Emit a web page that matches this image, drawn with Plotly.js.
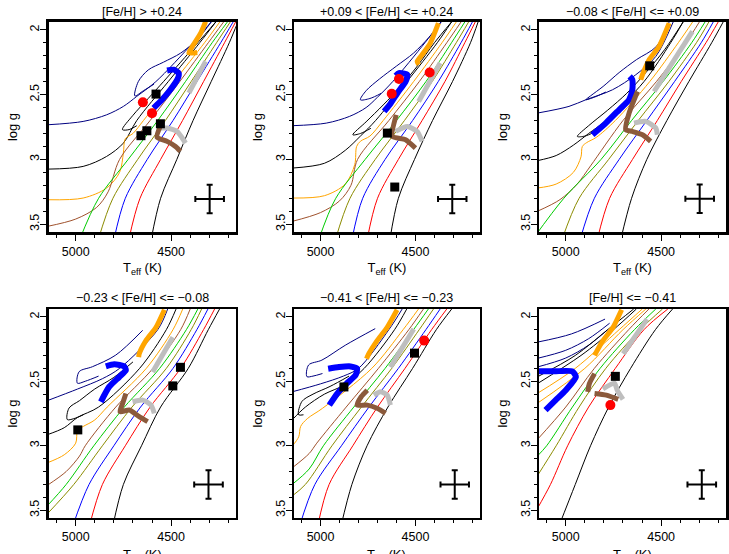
<!DOCTYPE html>
<html><head><meta charset="utf-8">
<script src="https://cdn.plot.ly/plotly-3.0.1.min.js"></script>
<style>html,body{margin:0;padding:0;background:#fff}</style>
</head><body><div id="chart" style="width:729px;height:554px"></div>
<script>
// ---------- panel titles ----------
const panelTitles = ['[Fe/H] > +0.24', '+0.09 < [Fe/H] <= +0.24', '\u22120.08 < [Fe/H] <= +0.09',
  '\u22120.23 < [Fe/H] <= \u22120.08', '\u22120.41 < [Fe/H] <= \u22120.23', '[Fe/H] <= \u22120.41'];
const xTitle = 'T<sub>eff</sub> (K)';
const yTitle = 'log g';
const xTickVals = [5000, 4500];
const yTickVals = [2, 2.5, 3, 3.5];
const xMinorTicks = [5100, 4900, 4800, 4700, 4600, 4400, 4300, 4200];
const yMinorTicks = [2.1, 2.2, 2.3, 2.4, 2.6, 2.7, 2.8, 2.9, 3.1, 3.2, 3.3, 3.4, 3.5];

// ---------- thin isochrones (Teff, log g) ----------
// order: navy, navy loop, black, black loop, orange, brown, green, olive, blue, red, black (oldest)
const thinT1 = [
  [5150,4961,4838,4750,4680,4580,4385,4290],
  [4290,4360,4450,4540,4620,4672,4690,4645,4590],
  [5150,4961,4838,4750,4680,4515,4350,4266],
  [4266,4360,4450,4540,4620,4700,4755,4720,4680],
  [5150,4961,4838,4770,4750,4740,4700,4645,4485,4325,4245],
  [5150,5000,4890,4830,4770,4610,4455,4305,4225],
  [4980,4880,4725,4570,4425,4285,4205],
  [4882,4805,4675,4530,4395,4262,4190],
  [4800,4740,4625,4490,4365,4240,4175],
  [4722,4663,4555,4440,4330,4220,4162],
  [4605,4555,4470,4385,4290,4195,4150]];
const thinG1 = [
  [2.733,2.707,2.656,2.591,2.514,2.40,2.10,1.94],
  [1.94,2.07,2.18,2.25,2.31,2.40,2.51,2.47,2.42],
  [3.075,3.054,2.977,2.874,2.70,2.40,2.10,1.94],
  [1.94,2.10,2.25,2.40,2.53,2.66,2.77,2.77,2.74],
  [3.311,3.298,3.221,3.10,2.95,2.84,2.80,2.70,2.40,2.10,1.94],
  [3.517,3.46,3.37,3.25,3.00,2.70,2.40,2.10,1.94],
  [3.62,3.30,3.00,2.70,2.40,2.10,1.94],
  [3.62,3.30,3.00,2.70,2.40,2.10,1.94],
  [3.62,3.30,3.00,2.70,2.40,2.10,1.94],
  [3.62,3.30,3.00,2.70,2.40,2.10,1.94],
  [3.62,3.30,3.00,2.70,2.40,2.10,1.94]];

const thinT2 = [
  [5150,4970,4847,4760,4700,4620,4450,4365],
  [4365,4430,4510,4600,4690,4760,4790,4740,4680],
  [5150,4980,4870,4790,4710,4545,4385,4310],
  [4310,4400,4490,4580,4670,4760,4830,4790,4735],
  [5150,4980,4870,4820,4810,4790,4740,4670,4510,4360,4285],
  [5150,5000,4900,4840,4805,4640,4480,4335,4260],
  [5010,4920,4765,4600,4445,4310,4240],
  [4922,4845,4712,4558,4412,4285,4220],
  [4835,4778,4660,4515,4380,4260,4200],
  [4755,4700,4590,4465,4345,4240,4185],
  [4635,4590,4505,4410,4305,4210,4170]];
const thinG2 = [
  [2.74,2.72,2.668,2.60,2.52,2.40,2.10,1.94],
  [1.94,2.06,2.18,2.28,2.38,2.47,2.54,2.53,2.49],
  [3.067,3.03,2.93,2.82,2.70,2.40,2.10,1.94],
  [1.94,2.10,2.28,2.44,2.58,2.71,2.81,2.80,2.76],
  [3.298,3.28,3.19,3.04,2.90,2.86,2.82,2.70,2.40,2.10,1.94],
  [3.478,3.41,3.32,3.20,3.00,2.70,2.40,2.10,1.94],
  [3.62,3.30,3.00,2.70,2.40,2.10,1.94],
  [3.62,3.30,3.00,2.70,2.40,2.10,1.94],
  [3.62,3.30,3.00,2.70,2.40,2.10,1.94],
  [3.62,3.30,3.00,2.70,2.40,2.10,1.94],
  [3.62,3.30,3.00,2.70,2.40,2.10,1.94]];

const thinT3 = [
  [5150,4983,4895,4755,4633,4528,4437],
  [4458,4525,4630,4720,4804,4870,4895,4850,4790],
  [5150,5050,4960,4880,4790,4590,4450,4385],
  [4385,4480,4580,4680,4780,4880,4939,4900,4850],
  [5150,5050,4960,4920,4913,4890,4840,4740,4560,4410,4335],
  [5150,5030,4940,4870,4700,4525,4370,4300],
  [5165,5010,4815,4655,4490,4340,4270],
  [5020,4930,4775,4620,4460,4315,4250],
  [4925,4850,4720,4575,4430,4290,4227],
  [4835,4770,4650,4520,4395,4265,4201],
  [4712,4655,4575,4470,4355,4235,4175]];
const thinG3 = [
  [2.643,2.591,2.54,2.463,2.347,2.206,1.94],
  [1.94,2.129,2.231,2.33,2.437,2.51,2.54,2.52,2.48],
  [3.01,2.97,2.89,2.80,2.70,2.40,2.10,1.94],
  [1.94,2.15,2.33,2.49,2.62,2.74,2.823,2.82,2.79],
  [3.221,3.19,3.10,2.98,2.90,2.87,2.83,2.70,2.40,2.10,1.94],
  [3.401,3.31,3.19,3.05,2.70,2.40,2.10,1.94],
  [3.60,3.30,3.00,2.70,2.40,2.10,1.94],
  [3.62,3.30,3.00,2.70,2.40,2.10,1.94],
  [3.62,3.30,3.00,2.70,2.40,2.10,1.94],
  [3.62,3.30,3.00,2.70,2.40,2.10,1.94],
  [3.62,3.30,3.00,2.70,2.40,2.10,1.94]];

const thinT4 = [
  [5150,4990,4860,4770,4570,4518],
  [4649,4790,4912,4982,4991,4950,4880],
  [5150,5060,4990,4880,4665,4525,4474],
  [4700,4800,4900,4980,5035,5044,5010,4960],
  [5150,5060,5000,4990,4960,4900,4835,4630,4490,4439],
  [5150,5050,4980,4950,4790,4595,4450,4400],
  [5150,5050,4905,4745,4560,4420,4360],
  [5150,5010,4860,4705,4525,4395,4340],
  [5015,4930,4800,4660,4490,4365,4307],
  [4928,4860,4740,4610,4450,4330,4272],
  [4805,4750,4655,4555,4410,4305,4246]];
const thinG4 = [
  [2.651,2.56,2.48,2.40,2.10,1.94],
  [2.105,2.297,2.387,2.426,2.515,2.50,2.46],
  [2.915,2.86,2.78,2.70,2.40,2.10,1.94],
  [2.35,2.47,2.56,2.65,2.708,2.797,2.79,2.76],
  [3.133,3.07,2.98,2.88,2.85,2.80,2.70,2.40,2.10,1.94],
  [3.308,3.20,3.08,3.00,2.70,2.40,2.10,1.94],
  [3.467,3.30,3.00,2.70,2.40,2.10,1.94],
  [3.53,3.30,3.00,2.70,2.40,2.10,1.94],
  [3.62,3.30,3.00,2.70,2.40,2.10,1.94],
  [3.62,3.30,3.00,2.70,2.40,2.10,1.94],
  [3.62,3.30,3.00,2.70,2.40,2.10,1.94]];

const thinT5 = [
  [5150,5000,4880,4800,4640,4570],
  [4712,4870,4993,5063,5072,5040,4990],
  [5150,5080,4980,4877,4770,4610,4546],
  [4850,4950,5040,5098,5116,5090],
  [5150,5115,5105,5070,4990,4730,4565,4484],
  [5150,5060,5020,4865,4695,4535,4458],
  [5150,5060,4985,4825,4660,4510,4432],
  [5150,5080,4940,4785,4625,4480,4405],
  [5110,5030,4890,4745,4590,4445,4370],
  [5015,4955,4830,4700,4555,4415,4335],
  [4892,4835,4755,4645,4515,4390,4309]];
const thinG5 = [
  [2.582,2.52,2.46,2.40,2.10,1.94],
  [2.092,2.221,2.336,2.374,2.464,2.46,2.44],
  [2.80,2.70,2.60,2.53,2.40,2.10,1.94],
  [2.46,2.54,2.60,2.656,2.759,2.76],
  [3.005,2.93,2.85,2.79,2.71,2.40,2.10,1.94],
  [3.172,3.06,2.98,2.70,2.40,2.10,1.94],
  [3.30,3.18,3.00,2.70,2.40,2.10,1.94],
  [3.39,3.30,3.00,2.70,2.40,2.10,1.94],
  [3.62,3.30,3.00,2.70,2.40,2.10,1.94],
  [3.62,3.30,3.00,2.70,2.40,2.10,1.94],
  [3.62,3.30,3.00,2.70,2.40,2.10,1.94]];

// panel 6: navy x3, black x2, orange x2, brown, green, olive, red, black (oldest)
const thinT6 = [
  [5150,4970,4794],
  [5150,5000,4880,4770],
  [5150,5000,4880,4780],
  [5150,4950,4780,4644],
  [5150,4920,4750,4630],
  [5150,4950,4720,4599],
  [5150,4900,4700,4580],
  [5150,5000,4850,4670,4564],
  [5150,5100,4965,4820,4640,4528],
  [5150,5050,4930,4790,4610,4493],
  [5150,5080,4990,4880,4740,4590,4465],
  [5035,4950,4870,4775,4660,4530,4440]];
const thinG6 = [
  [2.197,2.133,2.018],
  [2.323,2.26,2.17,2.05],
  [2.39,2.32,2.22,2.10],
  [2.467,2.30,2.10,1.94],
  [2.52,2.30,2.10,1.94],
  [2.595,2.40,2.10,1.94],
  [2.672,2.40,2.10,1.94],
  [2.954,2.70,2.40,2.10,1.94],
  [3.082,3.00,2.70,2.40,2.10,1.94],
  [3.236,3.00,2.70,2.40,2.10,1.94],
  [3.49,3.30,3.00,2.70,2.40,2.10,1.94],
  [3.62,3.30,3.00,2.70,2.40,2.10,1.94]];

// ---------- thick tracks: orange, blue, grey (upper), grey (arc), brown [, brown] ----------
const thickT1 = [[4319,4345,4389,4407,4363],[4592,4548,4504,4468,4460,4486,4521],[4407,4319],[4565,4521,4468,4442,4424],[4553,4574,4521,4477,4451]];
const thickG1 = [[1.936,2.026,2.129,2.18,2.175],[2.604,2.54,2.463,2.386,2.334,2.308,2.314],[2.488,2.244],[2.758,2.758,2.784,2.835,2.874],[2.733,2.828,2.861,2.90,2.938]];
const thickT2 = [[4379,4422,4465,4491,4483],[4665,4630,4595,4552,4543,4587,4604],[4483,4370],[4604,4543,4491,4465],[4601,4622,4552,4500]];
const thickG2 = [[1.949,2.103,2.193,2.244,2.27],[2.63,2.566,2.488,2.398,2.347,2.334,2.355],[2.553,2.257],[2.784,2.746,2.784,2.861],[2.656,2.823,2.848,2.913]];
const thickT3 = [[4458,4511,4563,4598,4607],[4860,4790,4720,4668,4651,4651,4665],[4537,4336],[4642,4581,4528,4520],[4624,4668,4686,4651,4598,4555]];
const thickG3 = [[1.949,2.129,2.231,2.347,2.386],[2.81,2.72,2.617,2.54,2.463,2.386,2.36],[2.476,2.013],[2.72,2.707,2.758,2.81],[2.476,2.643,2.771,2.784,2.81,2.861]];
const thickT4 = [[4535,4579,4632,4667,4670],[4868,4825,4772,4737,4746,4798,4842],[4597,4491],[4702,4649,4605,4588],[4737,4754,4768,4719,4667,4623]];
const thickG4 = [[1.946,2.082,2.185,2.287,2.313],[2.659,2.544,2.467,2.415,2.385,2.369,2.385],[2.428,2.159],[2.659,2.646,2.685,2.749],[2.595,2.672,2.736,2.723,2.774,2.813]];
const thickT5 = [[4597,4649,4702,4746,4758],[4954,4912,4863,4816,4807,4842,4903,4960],[4632,4509],[4719,4684,4649,4632],[4754,4786,4807,4754,4702,4658]];
const thickG5 = [[1.946,2.082,2.185,2.287,2.326],[2.685,2.595,2.518,2.454,2.403,2.385,2.39,2.403],[2.39,2.095],[2.608,2.582,2.608,2.685],[2.569,2.62,2.685,2.685,2.71,2.749]];
const thickT6 = [[4707,4752,4805,4840,4849],[5160,5060,4965,4947,5000,5053,5106],[4699,4574],[4805,4745,4730,4700],[4849,4876,4885],[4849,4787,4725]];
const thickG6 = [[1.946,2.082,2.185,2.274,2.30],[2.423,2.423,2.423,2.467,2.569,2.646,2.723],[2.287,2.018],[2.56,2.515,2.57,2.64],[2.441,2.518,2.582],[2.595,2.608,2.641]];

// ---------- stars: red circles, black squares ----------
const redT = [[4648,4600],[4587,4625,4425],[],[],[4454],[4766]];
const redG = [[2.56,2.643],[2.38,2.494,2.329],[],[],[2.185],[2.685]];
const sqT = [[4579,4556,4627,4658],[4648,4609],[4560],[4989,4491,4451],[4877,4505],[4740]];
const sqG = [[2.496,2.725,2.779,2.817],[2.797,3.213],[2.278],[2.877,2.536,2.392],[2.544,2.282],[2.462]];

// ---------- typical error bars ----------
const errT = [4298,4306,4298,4304,4293,4287];
const errG = [3.306,3.306,3.303,3.30,3.30,3.30];
const errTeff = 75;
const errLogg = 0.11;

// ---------- styles ----------
const thinColors = ['#000080','#000080','#000000','#000000','#FFA500','#A0522D','#00CC00','#8B8B00','#0000FF','#FF0000','#000000'];
const thinColors6 = ['#000080','#000080','#000080','#000000','#000000','#FFA500','#FFA500','#A0522D','#00CC00','#8B8B00','#FF0000','#000000'];
const thickColors = ['#FFA500','#0000FF','#BEBEBE','#BEBEBE','#8B5A3C','#8B5A3C'];
const thickWidths = [5,6,5,5,5,5];

const thinT = [thinT1,thinT2,thinT3,thinT4,thinT5,thinT6];
const thinG = [thinG1,thinG2,thinG3,thinG4,thinG5,thinG6];
const thickT = [thickT1,thickT2,thickT3,thickT4,thickT5,thickT6];
const thickG = [thickG1,thickG2,thickG3,thickG4,thickG5,thickG6];

const colDom = [[0.0672,0.3237],[0.4033,0.6584],[0.7394,0.9959]];
const rowDom = [[0.5812,0.9603],[0.0650,0.4422]];
const FONT = 'Liberation Sans, Arial, Helvetica, sans-serif';

const traces = [];
const layout = {
  width: 729, height: 554, margin: {l:0, r:0, t:0, b:0},
  paper_bgcolor: '#fff', plot_bgcolor: '#fff', showlegend: false,
  font: {family: FONT, size: 12.5, color: '#000'},
  annotations: []
};

for (let p = 0; p < 6; p++) {
  const sfx = p === 0 ? '' : String(p + 1);
  const xa = 'x' + sfx, ya = 'y' + sfx;
  const cols = p === 5 ? thinColors6 : thinColors;
  thinT[p].forEach((tt, i) => traces.push({
    type: 'scatter', mode: 'lines', x: tt, y: thinG[p][i], xaxis: xa, yaxis: ya,
    line: {color: cols[i], width: 1, shape: 'spline', smoothing: 0.9}, hoverinfo: 'skip'
  }));
  thickT[p].forEach((tt, i) => traces.push({
    type: 'scatter', mode: 'lines', x: tt, y: thickG[p][i], xaxis: xa, yaxis: ya,
    line: {color: thickColors[i], width: thickWidths[i], shape: 'spline', smoothing: 0.6}, hoverinfo: 'skip'
  }));
  if (redT[p].length) traces.push({
    type: 'scatter', mode: 'markers', x: redT[p], y: redG[p], xaxis: xa, yaxis: ya,
    marker: {color: '#FF0000', size: 10, symbol: 'circle'}, hoverinfo: 'skip'
  });
  traces.push({
    type: 'scatter', mode: 'markers', x: sqT[p], y: sqG[p], xaxis: xa, yaxis: ya,
    marker: {color: '#000000', size: 9, symbol: 'square'}, hoverinfo: 'skip'
  });
  traces.push({
    type: 'scatter', mode: 'markers', x: [errT[p]], y: [errG[p]], xaxis: xa, yaxis: ya,
    marker: {color: 'rgba(0,0,0,0)', size: 1},
    error_x: {type: 'constant', value: errTeff, color: '#000', thickness: 2, width: 3},
    error_y: {type: 'constant', value: errLogg, color: '#000', thickness: 2, width: 3},
    hoverinfo: 'skip'
  });

  const col = p % 3, row = Math.floor(p / 3);
  layout['xaxis' + sfx] = {
    domain: colDom[col], anchor: ya, range: [5140, 4160], autorange: false,
    tickmode: 'array', tickvals: xTickVals, ticktext: xTickVals.map(String),
    ticks: 'outside', ticklen: 6, tickwidth: 1, tickcolor: '#000',
    minor: {tickmode: 'array', tickvals: xMinorTicks, ticks: 'outside', ticklen: 3, tickwidth: 1, tickcolor: '#000'},
    showline: true, linewidth: 2.5, linecolor: '#000', mirror: true,
    showgrid: false, zeroline: false, tickfont: {size: 12.5, family: FONT}
  };
  if (row === 0) {
    layout['xaxis' + sfx].title = {text: xTitle, font: {size: 13, family: FONT}, standoff: 6};
  } else {
    layout.annotations.push({
      text: xTitle, xref: 'paper', yref: 'paper',
      x: (colDom[col][0] + colDom[col][1]) / 2, y: 1 - 545 / 554,
      xanchor: 'center', yanchor: 'top', showarrow: false,
      font: {size: 13, family: FONT, color: '#000'}
    });
  }
  layout['yaxis' + sfx] = {
    domain: rowDom[row], anchor: xa, range: [3.56, 1.94], autorange: false,
    tickmode: 'array', tickvals: yTickVals, ticktext: ['2','2.5','3','3.5'], tickangle: -90,
    ticks: 'outside', ticklen: 6, tickwidth: 1, tickcolor: '#000', ticklabelstandoff: -4,
    minor: {tickmode: 'array', tickvals: yMinorTicks, ticks: 'outside', ticklen: 3, tickwidth: 1, tickcolor: '#000'},
    showline: true, linewidth: 2.5, linecolor: '#000', mirror: true,
    showgrid: false, zeroline: false, tickfont: {size: 12.5, family: FONT},
    title: {text: yTitle, font: {size: 13, family: FONT}, standoff: 8}
  };
  layout.annotations.push({
    text: panelTitles[p], xref: 'paper', yref: 'paper',
    x: (colDom[col][0] + colDom[col][1]) / 2, y: row === 0 ? 0.978 : 0.462,
    xanchor: 'center', yanchor: 'middle', showarrow: false,
    font: {size: 12.5, family: FONT, color: '#000'}
  });
}

Plotly.newPlot('chart', traces, layout, {staticPlot: true, displayModeBar: false});
</script>
</body></html>
